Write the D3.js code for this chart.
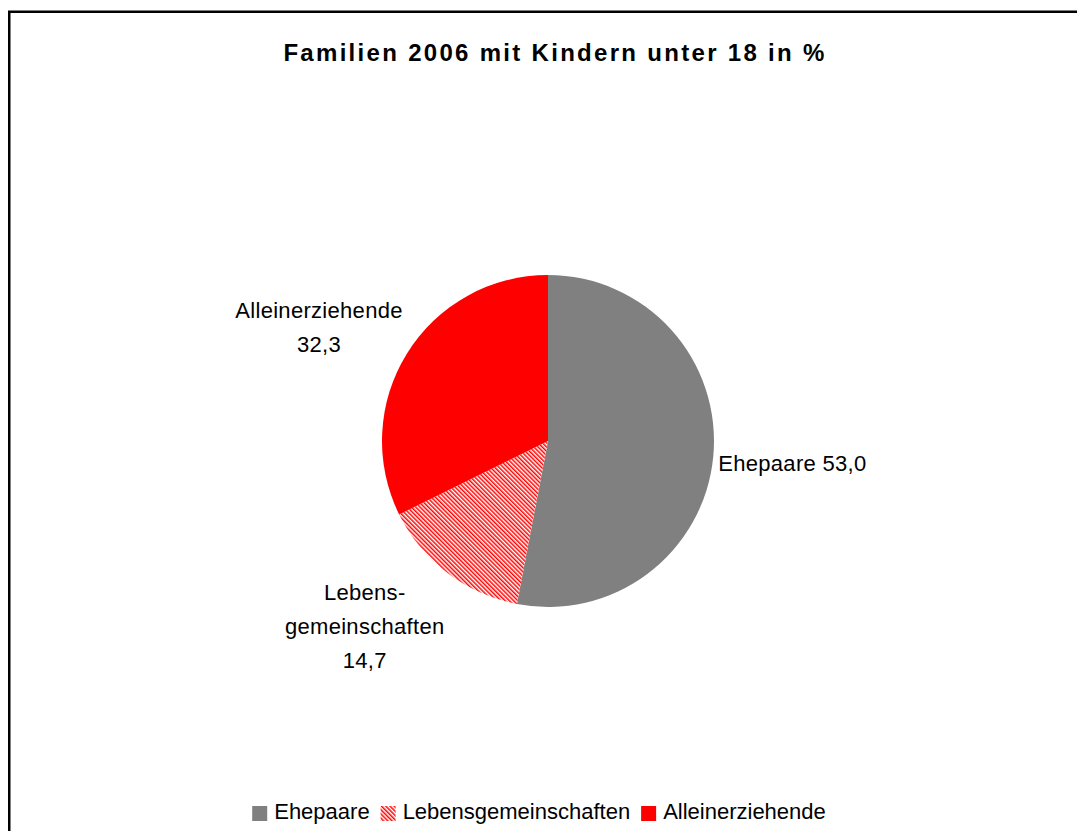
<!DOCTYPE html>
<html>
<head>
<meta charset="utf-8">
<script src="https://cdn.jsdelivr.net/npm/d3@7"></script>
<style>
  body { margin: 0; background: #fff; }
  text { font-family: "Liberation Sans", Arial, sans-serif; fill: #000; }
</style>
</head>
<body>
<div id="chart"></div>
<script>
// Data
const title = 'Familien 2006 mit Kindern unter 18 in %';
const categories = ['Ehepaare', 'Lebensgemeinschaften', 'Alleinerziehende'];
const values = [53.0, 14.7, 32.3];
// data label lines (category name is broken the same way as in the original)
const labelNames = [['Ehepaare'], ['Lebens-', 'gemeinschaften'], ['Alleinerziehende']];
const labelInline = [true, false, false];

const width = 1077;
const height = 831;
const cx = 548, cy = 441, radius = 166;
const fontSize = 22;
const lineH = 34;

const fmt = v => d3.format('.1f')(v).replace('.', ',');

const svg = d3.select('#chart')
  .append('svg')
  .attr('width', width)
  .attr('height', height);

// hatch pattern for Lebensgemeinschaften
const defs = svg.append('defs');
defs.append('pattern')
  .attr('id', 'hatch')
  .attr('patternUnits', 'userSpaceOnUse')
  .attr('width', 3)
  .attr('height', 3)
  .attr('patternTransform', 'rotate(-45)')
  .call(p => {
    p.append('rect').attr('width', 3).attr('height', 3).attr('fill', '#fff');
    p.append('rect').attr('width', 1.5).attr('height', 3).attr('fill', '#ff0000');
  });

const fills = ['#808080', 'url(#hatch)', '#ff0000'];

// chart frame
svg.append('rect')
  .attr('x', 9.25).attr('y', 11.75)
  .attr('width', width + 20).attr('height', height + 20)
  .attr('fill', 'none')
  .attr('stroke', '#000')
  .attr('stroke-width', 2.5);

// title
svg.append('text')
  .attr('x', 555)
  .attr('y', 61)
  .attr('text-anchor', 'middle')
  .attr('font-weight', 'bold')
  .attr('font-size', 24)
  .attr('letter-spacing', 2.3)
  .text(title);

const pie = d3.pie().sort(null).value(d => d.value);
const arcs = pie(categories.map((c, i) => ({ name: c, value: values[i], i })));
const arc = d3.arc().innerRadius(0).outerRadius(radius);

const g = svg.append('g').attr('transform', `translate(${cx},${cy})`);

g.selectAll('path')
  .data(arcs)
  .enter()
  .append('path')
  .attr('d', arc)
  .attr('fill', d => fills[d.data.i]);

// data labels, outside end
arcs.forEach(d => {
  const i = d.data.i;
  const lines = labelInline[i]
    ? [labelNames[i].join(' ') + ' ' + fmt(values[i])]
    : labelNames[i].concat([fmt(values[i])]);
  const mid = (d.startAngle + d.endAngle) / 2;
  const s = Math.sin(mid), c = Math.cos(mid);
  const px = (radius + 5) * s, py = -(radius + 5) * c;

  const t = g.append('text')
    .attr('font-size', fontSize)
    .attr('letter-spacing', 0.3)
    .attr('text-anchor', 'middle');
  lines.forEach(l => t.append('tspan').text(l));
  let w = 0;
  t.selectAll('tspan').each(function () { w = Math.max(w, this.getComputedTextLength()); });
  const h = (lines.length - 1) * lineH + fontSize;
  const sx = Math.max(-1, Math.min(1, s * 2));
  const sy = Math.max(-1, Math.min(1, -c * 2));
  const bx = px + sx * w / 2;
  const by = py + sy * h / 2 + 4;
  const top = by - h / 2;
  t.selectAll('tspan')
    .attr('x', bx)
    .attr('y', (l, k) => top + k * lineH + fontSize / 2 + fontSize * 0.36);
});

// legend
const legend = svg.append('g');
let x = 0;
categories.forEach((c, i) => {
  const item = legend.append('g');
  item.append('rect')
    .attr('x', 0).attr('y', -13)
    .attr('width', 15).attr('height', 15)
    .attr('fill', fills[i]);
  const t = item.append('text')
    .attr('x', 22).attr('y', 0)
    .attr('font-size', fontSize)
    .text(c);
  const w = 22 + t.node().getComputedTextLength();
  item.attr('transform', `translate(${x},0)`);
  x += w + 11;
});
const total = x - 11;
legend.attr('transform', `translate(${539 - total / 2},819)`);
</script>
</body>
</html>
